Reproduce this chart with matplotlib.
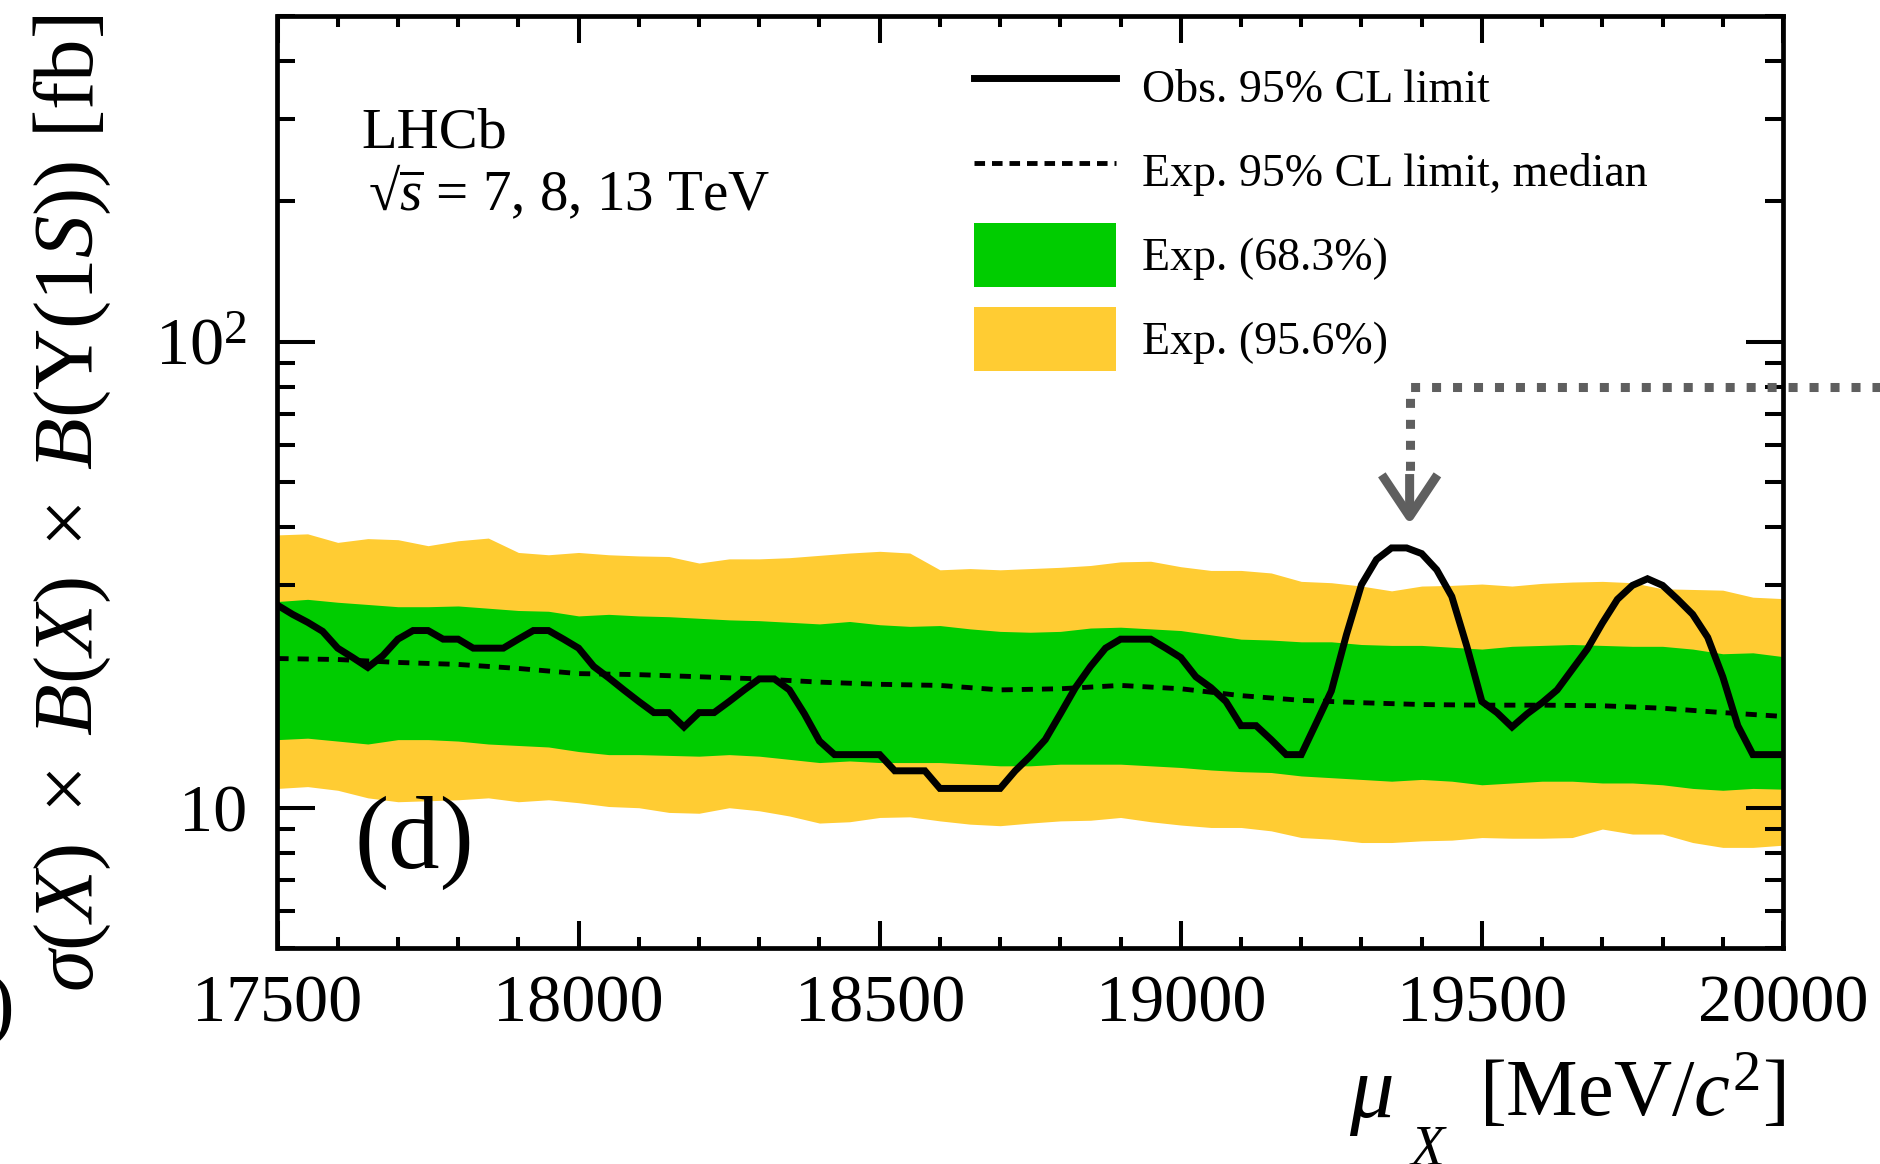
import matplotlib
matplotlib.use("Agg")
import matplotlib.pyplot as plt
from matplotlib.ticker import FixedLocator, FixedFormatter, LogLocator, MultipleLocator, NullFormatter
from matplotlib.patches import Patch
from matplotlib.lines import Line2D
from matplotlib.patches import ArrowStyle

plt.rcParams['font.family'] = ['Liberation Serif', 'DejaVu Serif']
plt.rcParams['mathtext.fontset'] = 'custom'
plt.rcParams['mathtext.rm'] = 'Liberation Serif'
plt.rcParams['mathtext.it'] = 'Liberation Serif:italic'
plt.rcParams['mathtext.bf'] = 'Liberation Serif:bold'
plt.rcParams['mathtext.fallback'] = 'stix'
plt.rcParams['lines.scale_dashes'] = False

# ---------------- data ----------------
# observed 95% CL upper limit [fb], scanned every 25 MeV
mass_obs = [17500, 17525, 17550, 17575, 17600, 17625, 17650, 17675, 17700, 17725,
            17750, 17775, 17800, 17825, 17850, 17875, 17900, 17925, 17950, 17975,
            18000, 18025, 18050, 18075, 18100, 18125, 18150, 18175, 18200, 18225,
            18250, 18275, 18300, 18325, 18350, 18375, 18400, 18425, 18450, 18475,
            18500, 18525, 18550, 18575, 18600, 18625, 18650, 18675, 18700, 18725,
            18750, 18775, 18800, 18825, 18850, 18875, 18900, 18925, 18950, 18975,
            19000, 19025, 19050, 19075, 19100, 19125, 19150, 19175, 19200, 19225,
            19250, 19275, 19300, 19325, 19350, 19375, 19400, 19425, 19450, 19475,
            19500, 19525, 19550, 19575, 19600, 19625, 19650, 19675, 19700, 19725,
            19750, 19775, 19800, 19825, 19850, 19875, 19900, 19925, 19950, 19975,
            20000]
limit_obs = [27.2, 26.0, 25.0, 23.9, 22.0, 21.0, 20.0, 21.2, 23.0, 24.0,
             24.0, 23.0, 23.0, 22.0, 22.0, 22.0, 23.0, 24.0, 24.0, 23.0,
             22.0, 20.1, 19.0, 17.9, 16.9, 16.0, 16.0, 14.9, 16.0, 16.0,
             16.9, 17.9, 18.9, 18.9, 17.9, 15.9, 13.9, 13.0, 13.0, 13.0,
             13.0, 12.0, 12.0, 12.0, 11.0, 11.0, 11.0, 11.0, 11.0, 12.0,
             12.9, 14.0, 15.9, 18.1, 20.1, 22.0, 23.0, 23.0, 23.0, 22.0,
             21.0, 19.1, 18.1, 16.9, 15.0, 15.0, 14.0, 13.0, 13.0, 15.2,
             17.8, 23.5, 30.1, 34.1, 36.1, 36.1, 35.1, 32.4, 28.4, 22.2,
             16.9, 16.0, 14.9, 15.9, 16.8, 17.9, 19.8, 21.9, 24.9, 28.0,
             30.0, 31.0, 30.0, 28.0, 26.0, 23.2, 19.1, 15.0, 13.0, 13.0,
             13.0]

# expected limit, median, every 100 MeV
mass_med = [17500, 17600, 17700, 17800, 17900, 18000, 18100, 18200, 18300, 18400,
            18500, 18600, 18700, 18800, 18900, 19000, 19100, 19200, 19300, 19400,
            19500, 19600, 19700, 19800, 19900, 20000]
limit_med = [20.9, 20.8, 20.5, 20.3, 19.9, 19.4, 19.3, 19.1, 18.9, 18.6,
             18.4, 18.3, 17.9, 18.0, 18.3, 18.0, 17.4, 17.0, 16.8, 16.65,
             16.6, 16.6, 16.55, 16.35, 16.0, 15.7]

# expected-limit bands, every 50 MeV
mass_band = [17500, 17550, 17600, 17650, 17700, 17750, 17800, 17850, 17900, 17950,
             18000, 18050, 18100, 18150, 18200, 18250, 18300, 18350, 18400, 18450,
             18500, 18550, 18600, 18650, 18700, 18750, 18800, 18850, 18900, 18950,
             19000, 19050, 19100, 19150, 19200, 19250, 19300, 19350, 19400, 19450,
             19500, 19550, 19600, 19650, 19700, 19750, 19800, 19850, 19900, 19950,
             20000]
band95_hi = [38.5, 38.7, 37.1, 37.8, 37.6, 36.5, 37.4, 37.9, 35.3, 34.9,
             35.3, 34.9, 34.7, 34.6, 33.5, 34.2, 34.2, 34.4, 34.8, 35.2,
             35.5, 35.2, 32.4, 32.6, 32.4, 32.6, 32.8, 33.1, 33.7, 33.8,
             32.9, 32.3, 32.3, 31.9, 30.6, 30.4, 29.9, 29.2, 29.9, 30.0,
             30.2, 29.9, 30.3, 30.5, 30.6, 30.4, 29.5, 29.4, 29.3, 28.3,
             28.1]
band68_hi = [27.7, 28.0, 27.6, 27.3, 27.0, 27.0, 27.1, 26.8, 26.5, 26.4,
             25.8, 26.0, 25.8, 25.7, 25.5, 25.3, 25.2, 25.0, 24.8, 25.1,
             24.7, 24.5, 24.6, 24.2, 23.9, 23.8, 23.9, 24.3, 24.4, 24.2,
             24.0, 23.5, 23.0, 22.9, 22.7, 22.7, 22.4, 22.3, 22.3, 22.1,
             21.9, 22.2, 22.3, 22.4, 22.3, 22.2, 22.2, 21.9, 21.4, 21.5,
             21.1]
band68_lo = [14.0, 14.1, 13.9, 13.7, 14.0, 14.0, 13.9, 13.7, 13.6, 13.5,
             13.2, 13.0, 13.0, 12.95, 12.9, 13.0, 12.9, 12.7, 12.5, 12.6,
             12.5, 12.5, 12.5, 12.4, 12.3, 12.3, 12.4, 12.4, 12.4, 12.3,
             12.2, 12.05, 11.95, 11.9, 11.7, 11.6, 11.5, 11.4, 11.5, 11.4,
             11.2, 11.3, 11.4, 11.4, 11.3, 11.3, 11.2, 11.0, 10.9, 11.0,
             10.96]
band95_lo = [11.0, 11.1, 10.9, 10.5, 10.3, 10.35, 10.4, 10.5, 10.3, 10.4,
             10.25, 10.06, 10.0, 9.77, 9.73, 10.0, 9.85, 9.6, 9.27, 9.33,
             9.53, 9.56, 9.37, 9.22, 9.15, 9.27, 9.37, 9.4, 9.53, 9.33,
             9.18, 9.07, 9.07, 8.92, 8.63, 8.56, 8.42, 8.42, 8.49, 8.52,
             8.63, 8.6, 8.6, 8.63, 9.0, 8.78, 8.78, 8.42, 8.22, 8.22,
             8.31]

x_ticks = [17500, 18000, 18500, 19000, 19500, 20000]
x_tick_labels = ['17500', '18000', '18500', '19000', '19500', '20000']
y_ticks = [10, 100]
y_tick_labels = ['10', r'$\mathdefault{10^{2}}$']

legend_labels = ['Obs. 95% CL limit', 'Exp. 95% CL limit, median',
                 'Exp. (68.3%)', 'Exp. (95.6%)']

# peak flagged with an arrow
arrow_mass = 19380
arrow_tip = 40.5
arrow_top = 80.0

# ---------------- style ----------------
GREEN = '#00cc00'
YELLOW = '#ffcc33'
GREY = '#5f5f5f'
OBS_LW = 5.0
MED_LW = 3.5

W, H = 1881, 1164
fig = plt.figure(figsize=(W / 100, H / 100), dpi=100)
ax = fig.add_axes([277.5 / W, 1 - 948 / H, (1783 - 277.5) / W, (948 - 16) / H])

ax.set_yscale('log')
ax.set_xlim(17500, 20000)
ax.set_ylim(5, 500)

ax.fill_between(mass_band, band95_lo, band95_hi, color=YELLOW, lw=0, zorder=1)
ax.fill_between(mass_band, band68_lo, band68_hi, color=GREEN, lw=0, zorder=2)
ax.plot(mass_med, limit_med, color='black', lw=MED_LW,
        dashes=(8.0, 6.5), dash_capstyle='butt', zorder=3)
ax.plot(mass_obs, limit_obs, color='black', lw=OBS_LW,
        solid_joinstyle='miter', zorder=4)

# axes frame and ticks
for sp in ax.spines.values():
    sp.set_linewidth(3.4)
    sp.set_zorder(6)
ax.xaxis.set_major_locator(FixedLocator(x_ticks))
ax.xaxis.set_major_formatter(FixedFormatter(x_tick_labels))
ax.xaxis.set_minor_locator(MultipleLocator(100))
ax.yaxis.set_major_locator(FixedLocator(y_ticks))
ax.yaxis.set_major_formatter(FixedFormatter(y_tick_labels))
ax.yaxis.set_minor_locator(LogLocator(base=10, subs=[2, 3, 4, 5, 6, 7, 8, 9]))
ax.yaxis.set_minor_formatter(NullFormatter())
ax.tick_params(axis='both', which='both', direction='in', top=True, right=True,
               width=2.9, colors='black', labelsize=49)
ax.tick_params(axis='x', which='major', length=19.5, pad=19)
ax.tick_params(axis='x', which='minor', length=8)
ax.tick_params(axis='y', which='major', length=27, pad=22)
ax.tick_params(axis='y', which='minor', length=13)

# axis titles
fig.text(72 / W, 1 - 15 / H,
         r'$\sigma(X)\;\times\;B(X)\;\times\;B(\Upsilon(1S))$ [fb]',
         rotation=90, ha='center', va='top', fontsize=61)
fig.text(1349 / W, 1 - 1117 / H, r'$\mu$', ha='left', va='baseline', fontsize=64)
fig.text(1409 / W, 1 - 1125 / H, r'$X$', ha='left', va='top', fontsize=40)
fig.text(1785 / W, 1 - 1117 / H, r'[MeV/$c^{2}$]', ha='right', va='baseline', fontsize=58)

# experiment label and panel tag
fig.text(361 / W, 1 - 148 / H, 'LHCb', ha='left', va='baseline', fontsize=42)
fig.text(368 / W, 1 - 210 / H, '\u221a' + r'$\overline{s}$ = 7, 8, 13 TeV',
         ha='left', va='baseline', fontsize=41)
fig.text(414 / W, 1 - 868 / H, '(d)', ha='center', va='baseline', fontsize=74)
# edge of a neighbouring glyph at the left border
fig.text(-14 / W, 1 - 1030 / H, ')', ha='left', va='baseline', fontsize=60)

# legend
handles = [Line2D([], [], color='black', lw=OBS_LW),
           Line2D([], [], color='black', lw=MED_LW, dashes=(7.6, 5.0)),
           Patch(facecolor=GREEN, edgecolor='none'),
           Patch(facecolor=YELLOW, edgecolor='none')]
ax.legend(handles, legend_labels, loc='upper left',
          bbox_to_anchor=(974 / W, 1 - 55 / H), bbox_transform=fig.transFigure,
          frameon=False, fontsize=33, handlelength=3.1, handleheight=1.77,
          handletextpad=0.57, labelspacing=0.44, borderpad=0, borderaxespad=0)

# dotted guide leading to the arrow over the highest excess
ax.plot([20300, arrow_mass, arrow_mass], [arrow_top, arrow_top, 51.5],
        color=GREY, lw=6.5, dashes=(6.5, 8.6), dash_capstyle='butt',
        solid_joinstyle='miter', clip_on=False, zorder=7)
ax.annotate('', xy=(arrow_mass, arrow_tip), xytext=(arrow_mass, 52.0),
            arrowprops=dict(arrowstyle=ArrowStyle('->', head_length=30, head_width=20),
                            mutation_scale=1, color=GREY, lw=6.5,
                            shrinkA=0, shrinkB=0, joinstyle='round', capstyle='butt'),
            annotation_clip=False, zorder=7)

fig.savefig('out.png', dpi=100)
